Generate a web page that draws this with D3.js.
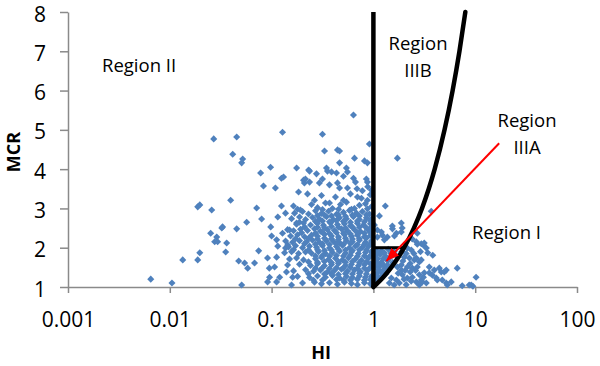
<!DOCTYPE html>
<html><head><meta charset="utf-8">
<script src="https://cdn.jsdelivr.net/npm/d3@7"></script>
<style>html,body{margin:0;padding:0;background:#fff;} svg{display:block;font-family:"Open Sans",sans-serif;}</style>
</head><body><svg id="chart" width="600" height="366"></svg>
<script>
// ---- data ----
const xTicks = [0.001, 0.01, 0.1, 1, 10, 100];
const xTickLabels = ["0.001", "0.01", "0.1", "1", "10", "100"];
const yTicks = [1, 2, 3, 4, 5, 6, 7, 8];

// [HI, MCR] sparse points left / top
const sparsePoints = [
[0.0065,1.2],[0.0105,1.1],[0.0134,1.69],[0.0188,1.69],[0.0197,1.87],[0.0188,3.04],[0.0197,3.09],[0.0258,2.96],[0.027,4.77],[0.0252,2.37],[0.0289,2.27],[0.0276,2.15],[0.0295,2.15],[0.0324,2.5],[0.033,2.53],[0.0362,2.12],[0.0354,1.89],[0.0396,3.21],[0.0415,4.38],[0.0454,4.82],[0.0454,2.48],[0.0475,1.66],[0.0508,1.05],[0.052,4.26],[0.0508,4.16],[0.0543,1.61],[0.0569,2.65],[0.0582,1.48],[0.068,1.61],[0.0713,3.01],[0.0746,1.92],[0.078,3.9],[0.0798,2.73],[0.0832,3.57],[0.0912,1.74],[0.095,1.48],[0.098,2.53],[0.0955,1.25],[0.0913,1.13],[0.0977,4.05],[0.1,2.3],[0.107,1.51],[0.109,3.52],[0.112,2.2],[0.112,1.76],[0.112,1.13],[0.115,2.78],[0.115,2.04],[0.12,1.25],[0.125,3.77],[0.131,3.8],[0.125,3.06],[0.128,4.94],[0.128,2.37],[0.137,2.88],[0.137,1.99],[0.144,2.07],[0.14,1.38],[0.15,2.45],[0.157,1.05],[0.161,1.25],[0.164,3.06],[0.176,4.03],[0.176,2.63],[0.18,2.98],[0.184,3.42],[0.188,2.65],[0.192,2.96],
[0.206,3.72],[0.21,3.65],[0.215,3.75],[0.231,3.98],[0.236,3.95],[0.236,3.67],[0.276,3.88],[0.295,3.65],[0.316,4.89],[0.316,3.75],[0.331,4.46],[0.346,4.03],[0.354,3.95],[0.37,3.6],[0.388,3.93],[0.434,3.9],[0.444,4.49],[0.465,4.46],[0.444,3.65],[0.465,4.16],[0.465,3.52],[0.508,3.82],[0.543,4.03],[0.556,3.93],[0.556,3.52],[0.637,5.38],[0.637,3.77],[0.652,4.28],[0.667,3.67],[0.697,3.29],[0.817,4.21],[0.853,3.75],[0.873,4.16],[0.873,3.67],[0.873,3.21],[0.914,4.64],[0.955,3.47]
];

// [HI, MCR] dense cluster left of HI = 1
const clusterPoints = [
[0.2253,3.37],[0.2639,3.21],[0.3091,3.33],[0.3704,3.14],[0.4241,3.29],[0.508,3.21],[0.595,3.37],[0.7627,3.26],
[0.2466,3.1],[0.2825,3.02],[0.3384,3.14],[0.3963,3.0],[0.4748,3.1],[0.5436,3.16],[0.6085,2.98],[0.729,3.08],[0.8348,3.12],
[0.1681,2.88],[0.2013,2.92],[0.2305,2.86],[0.27,2.94],[0.3091,2.87],[0.3621,2.93],[0.4338,2.85],[0.508,2.9],[0.5817,2.95],[0.6813,2.88],[0.7801,2.92],[0.9137,2.86],
[0.1571,2.74],[0.1881,2.78],[0.2154,2.72],[0.2523,2.77],[0.2955,2.73],[0.3461,2.79],[0.4054,2.71],[0.4642,2.76],[0.5436,2.74],[0.6366,2.79],[0.729,2.72],[0.8539,2.76],[0.9559,2.73],
[0.1758,2.6],[0.2059,2.63],[0.2412,2.58],[0.2825,2.62],[0.3234,2.57],[0.3788,2.63],[0.4437,2.59],[0.5196,2.61],[0.595,2.56],[0.6968,2.62],[0.798,2.58],[0.9346,2.61],
[0.1435,2.46],[0.1643,2.43],[0.1924,2.47],[0.2253,2.44],[0.2639,2.48],[0.3022,2.42],[0.354,2.46],[0.4146,2.44],[0.4856,2.48],[0.556,2.43],[0.6512,2.46],[0.7457,2.41],[0.8733,2.47],
[0.1536,2.3],[0.1798,2.33],[0.2106,2.28],[0.2466,2.32],[0.2825,2.29],[0.3308,2.34],[0.3875,2.3],[0.4538,2.27],[0.5196,2.33],[0.6085,2.29],[0.6968,2.32],[0.8162,2.28],[0.9346,2.31],
[0.1372,2.17],[0.1606,2.14],[0.1881,2.18],[0.2203,2.15],[0.2523,2.19],[0.2955,2.14],[0.3461,2.18],[0.4054,2.16],[0.4642,2.13],[0.5436,2.18],[0.6224,2.15],[0.729,2.19],[0.8348,2.14],[0.9559,2.17],
[0.1468,2.02],[0.1719,2.05],[0.2013,2.0],[0.2357,2.04],[0.2761,2.01],[0.3162,2.05],[0.3704,1.99],[0.4338,2.03],[0.4967,2.06],[0.5817,2.0],[0.6661,2.04],[0.7801,2.01],[0.8933,2.03],
[0.1341,1.87],[0.1571,1.9],[0.1839,1.85],[0.2154,1.89],[0.2466,1.86],[0.2889,1.9],[0.3384,1.85],[0.3963,1.88],[0.4642,1.91],[0.5315,1.86],[0.6085,1.89],[0.7127,1.85],[0.8348,1.88],[0.9559,1.9],
[0.1501,1.71],[0.1758,1.74],[0.2059,1.69],[0.27,1.72],[0.3091,1.75],[0.3621,1.7],[0.4241,1.73],[0.4967,1.69],[0.5687,1.74],[0.6661,1.71],[0.7627,1.68],[0.8933,1.73],
[0.1435,1.56],[0.1881,1.58],[0.2412,1.55],[0.2825,1.59],[0.3308,1.54],[0.3875,1.57],[0.4538,1.6],[0.5315,1.55],[0.6085,1.58],[0.7127,1.54],[0.8162,1.57],[0.9346,1.59],
[0.1643,1.41],[0.2154,1.44],[0.258,1.4],[0.3022,1.43],[0.354,1.39],[0.4146,1.42],[0.4856,1.45],[0.556,1.4],[0.6512,1.43],[0.7457,1.39],[0.8733,1.42],
[0.1798,1.27],[0.2357,1.24],[0.2825,1.28],[0.3384,1.25],[0.3963,1.29],[0.4642,1.23],[0.5436,1.27],[0.6224,1.24],[0.729,1.28],[0.8348,1.25],[0.9559,1.27],
[0.2013,1.1],[0.2639,1.12],[0.3091,1.08],[0.3704,1.11],[0.4437,1.07],[0.5196,1.12],[0.6085,1.09],[0.6968,1.06],[0.8162,1.11],[0.9346,1.08]
];

// [HI, MCR] extra points filling the cluster core
const clusterCorePoints = [
[0.3162,2.97],[0.4541,2.98],[0.6512,3.0],[0.8733,2.99],[0.78,3.45],[0.93,3.35],[0.69,3.5],[0.96,3.05],[0.88,3.55],
[0.2825,2.82],[0.3308,2.83],[0.3875,2.81],[0.4538,2.84],[0.5315,2.8],[0.6224,2.83],[0.729,2.81],[0.8539,2.84],
[0.27,2.67],[0.3162,2.68],[0.3704,2.66],[0.4338,2.69],[0.508,2.67],[0.595,2.65],[0.6968,2.68],[0.8162,2.66],[0.9346,2.69],
[0.2106,2.53],[0.2825,2.52],[0.3308,2.51],[0.3875,2.54],[0.4538,2.52],[0.5315,2.5],[0.6224,2.53],[0.729,2.52],[0.8539,2.51],[0.96,2.53],
[0.1968,2.38],[0.27,2.37],[0.3162,2.39],[0.3704,2.36],[0.4338,2.38],[0.508,2.37],[0.595,2.35],[0.6968,2.38],[0.8162,2.37],[0.9346,2.39],
[0.1719,2.23],[0.2305,2.24],[0.2825,2.22],[0.3308,2.24],[0.3875,2.23],[0.4538,2.21],[0.5315,2.24],[0.6224,2.22],[0.729,2.23],[0.8539,2.25],
[0.2106,2.1],[0.27,2.09],[0.3162,2.1],[0.3704,2.08],[0.4338,2.1],[0.508,2.09],[0.595,2.11],[0.6968,2.08],[0.8162,2.09],[0.9346,2.1],
[0.1643,1.95],[0.2305,1.94],[0.2825,1.95],[0.3308,1.93],[0.3875,1.94],[0.4538,1.96],[0.5315,1.94],[0.6224,1.93],[0.729,1.95],[0.8539,1.94],
[0.27,1.79],[0.3162,1.8],[0.3704,1.78],[0.4338,1.8],[0.508,1.79],[0.595,1.81],[0.6968,1.78],[0.8162,1.79],[0.9346,1.8],
[0.2305,1.64],[0.2825,1.63],[0.3308,1.65],[0.3875,1.62],[0.4538,1.64],[0.5315,1.63],[0.6224,1.65],[0.729,1.62],[0.8539,1.64],
[0.27,1.48],[0.3162,1.49],[0.3704,1.47],[0.4338,1.49],[0.508,1.48],[0.595,1.5],[0.6968,1.47],[0.8162,1.48],[0.9346,1.5],
[0.3308,1.33],[0.3875,1.34],[0.4538,1.32],[0.5315,1.34],[0.6224,1.33],[0.729,1.35],[0.8539,1.33],[0.2305,1.34],
[0.3162,1.18],[0.4338,1.19],[0.508,1.17],[0.595,1.18],[0.6968,1.2],[0.8162,1.17],[0.9346,1.19],[0.258,1.17]
];

// [HI, MCR] points right of HI = 1
const rightPoints = [
[1.72,4.28],[1.31,3.06],[1.145,2.81],[1.023,2.58],[1.535,2.55],[1.88,2.63],[1.094,2.45],[1.198,2.4],[1.225,2.32],[1.372,2.27],[1.094,2.27],[1.282,2.2],[1.54,2.48],[1.68,2.37],[1.61,2.3],[1.92,2.5],[1.88,2.4],
[3.7,2.93],[2.7,2.37],[2.41,2.22],[2.64,2.15],[2.7,2.09],[2.955,2.1],[3.09,2.07],[3.16,2.12],[3.31,1.99],
[1.05,1.95],[1.2,1.92],[1.4,1.96],[1.6,1.9],[1.04,1.8],[1.17,1.83],[1.32,1.78],[1.55,1.81],[1.72,1.77],[1.06,1.66],[1.2,1.63],[1.38,1.67],[1.55,1.62],[1.03,1.5],[1.15,1.52],[1.3,1.48],[1.45,1.5],[1.08,1.35],[1.22,1.37],[1.32,1.33],[1.05,1.2],[1.15,1.18],
[1.1,1.88],[1.28,1.87],[1.48,1.86],[1.1,1.72],[1.25,1.72],[1.42,1.72],[1.1,1.58],[1.25,1.57],[1.38,1.56],[1.12,1.43],[1.26,1.43],[1.1,1.28],[1.2,1.27],[1.08,1.12],
[2.154,1.99],[2.358,1.94],[2.013,1.76],[2.254,1.74],[2.523,1.69],[2.825,1.64],[1.882,1.56],[2.154,1.51],[2.412,1.48],[2.7,1.51],[3.963,1.43],[4.642,1.38],[5.196,1.43],[6.661,1.48],[4.146,1.23],[4.749,1.18],[5.196,1.1],[5.817,1.13],[10.2,1.25],[9.138,1.05],[9.5,1.02],[2.412,1.25],[2.825,1.31],[3.162,1.36],[3.54,1.36],[3.42,1.87],[3.83,1.81],[2.64,1.74],[2.955,1.69],[3.54,1.51],[4.44,1.48],[4.967,1.38],[4.242,1.18],[1.924,1.31],[2.154,1.23],[2.64,1.13],[2.955,1.18],[3.309,1.1],[1.719,1.51],[1.882,1.43],[1.681,1.18],[1.799,1.1],[7.456,1.03],[8.733,1.05],[5.316,1.05],[3.023,1.13],[2.825,1.05],[1.435,1.1],[1.5,1.23],
[1.9,1.9],[2.1,1.85],[1.95,1.66],[2.3,1.6],[2.05,1.42],[2.3,1.38],[2.6,1.42],[1.75,1.35],[2.0,1.2],[2.35,1.15],[1.6,1.05],[2.1,1.06],[3.1,1.25],[3.8,1.3],[2.5,1.85],[2.9,1.9]
];

// region boundaries
const lineHI1 = [[1, 1], [1, 8]];
const lineStep = [[1, 2], [2, 2]];
const curveHIeqMCR = [[1,1],[1.25,1.25],[1.5,1.5],[1.75,1.75],[2,2],[2.5,2.5],[3,3],[3.5,3.5],[4,4],[5,5],[6,6],[7,7],[8,8]];
const arrowLine = [[17.2, 4.66], [1.34, 1.66]];

const regionTexts = [["Region II"], ["Region", "IIIB"], ["Region", "IIIA"], ["Region I"]];
const xTitle = "HI", yTitle = "MCR";

// ---- layout ----
const svg = d3.select("#chart");
const x = d3.scaleLog().domain([0.001, 100]).range([68, 577]);
const y = d3.scaleLinear().domain([1, 8]).range([287, 12]);
const axisColor = "#8a8a8a";

// axes
const gx = svg.append("g").attr("transform", "translate(0,287)")
  .call(d3.axisBottom(x).tickValues(xTicks).tickFormat((d, i) => xTickLabels[i]).tickSize(6).tickSizeOuter(0).tickPadding(19));
const gy = svg.append("g").attr("transform", "translate(68,0)")
  .call(d3.axisLeft(y).tickValues(yTicks).tickFormat(d3.format("d")).tickSize(8).tickSizeOuter(0).tickPadding(14));
[gx, gy].forEach(g => {
  g.select(".domain").attr("stroke", axisColor).attr("stroke-width", 1.5);
  g.selectAll(".tick line").attr("stroke", axisColor).attr("stroke-width", 1.5);
  g.selectAll(".tick text").attr("fill", "#000").attr("font-size", 21).attr("font-family", '"Open Sans",sans-serif');
});
gy.selectAll(".tick text").attr("dy", 9);

// points
const allPoints = sparsePoints.concat(clusterPoints, clusterCorePoints, rightPoints);
const sym = d3.symbol(d3.symbolSquare, 25)();
svg.append("g").selectAll("path").data(allPoints).join("path")
  .attr("d", sym)
  .attr("transform", d => `translate(${x(d[0])},${y(d[1])}) rotate(45)`)
  .attr("fill", "#4f81bd");

// boundary lines
const line = d3.line().x(d => x(d[0])).y(d => y(d[1]));
svg.append("path").attr("d", line(lineHI1)).attr("stroke", "#000").attr("stroke-width", 4.5).attr("fill", "none");
svg.append("path").attr("d", line(lineStep)).attr("stroke", "#000").attr("stroke-width", 3).attr("fill", "none");
svg.append("path").attr("d", line.curve(d3.curveMonotoneX)(curveHIeqMCR)).attr("stroke", "#000").attr("stroke-width", 4.5).attr("fill", "none").attr("stroke-linecap", "round");

// red arrow
svg.append("defs").append("marker").attr("id", "ah").attr("viewBox", "0 0 12 10")
  .attr("refX", 12).attr("refY", 5).attr("markerWidth", 13).attr("markerHeight", 11)
  .attr("markerUnits", "userSpaceOnUse").attr("orient", "auto")
  .append("path").attr("d", "M0,0 L12,5 L0,10 Z").attr("fill", "#ff0000");
svg.append("path").attr("d", d3.line().x(d => x(d[0])).y(d => y(d[1]))(arrowLine))
  .attr("stroke", "#ff0000").attr("stroke-width", 2).attr("fill", "none").attr("marker-end", "url(#ah)");

// region labels
const labelPos = [
  {x: 102, y: 72, anchor: "start"},
  {x: 418, y: 50, anchor: "middle"},
  {x: 527, y: 127, anchor: "middle"},
  {x: 472, y: 239, anchor: "start"}
];
regionTexts.forEach((lines, i) => {
  const p = labelPos[i];
  const t = svg.append("text").attr("x", p.x).attr("y", p.y).attr("text-anchor", p.anchor)
    .attr("font-size", 18.5).attr("fill", "#000");
  lines.forEach((s, j) => t.append("tspan").attr("x", p.x).attr("dy", j === 0 ? 0 : 27).text(s));
});

// axis titles
svg.append("text").attr("x", 321).attr("y", 359).attr("text-anchor", "middle")
  .attr("font-size", 18).attr("font-weight", "bold").text(xTitle);
svg.append("text").attr("transform", "translate(20,152) rotate(-90)").attr("text-anchor", "middle")
  .attr("font-size", 18).attr("font-weight", "bold").text(yTitle);
</script></body></html>
